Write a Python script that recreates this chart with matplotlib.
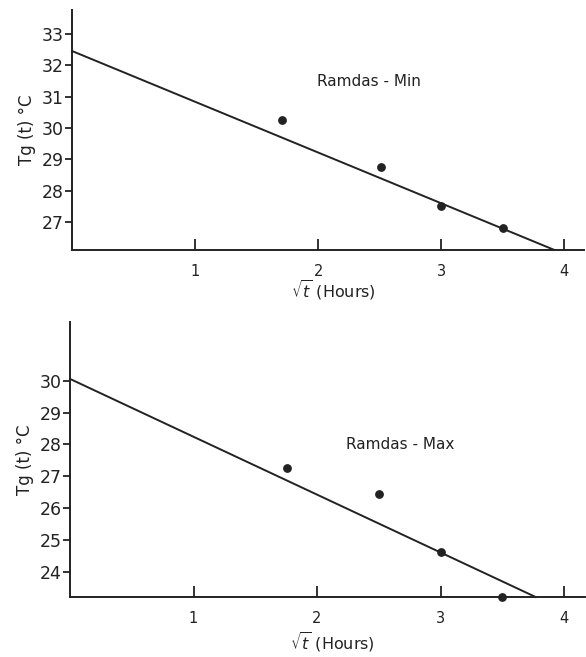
import matplotlib.pyplot as plt

# Ramdas - Min (top panel)
min_x = [1.71, 2.51, 3.0, 3.5]
min_y = [30.25, 28.75, 27.5, 26.8]
min_fit_x = [0.0, 3.92]
min_fit_y = [32.46, 26.1]
min_yticks = [27, 28, 29, 30, 31, 32, 33]

# Ramdas - Max (bottom panel)
max_x = [1.76, 2.5, 3.0, 3.5]
max_y = [27.26, 26.45, 24.62, 23.2]
max_fit_x = [0.0, 3.77]
max_fit_y = [30.06, 23.2]
max_yticks = [24, 25, 26, 27, 28, 29, 30]

xticks = [1, 2, 3, 4]
ink = '#222222'

fig = plt.figure(figsize=(5.86, 6.57), dpi=100)


def panel(rect, px, py, fx, fy, yticks, ylim, xlim, label, label_xy, xlab_y):
    ax = fig.add_axes(rect)
    ax.plot(fx, fy, color=ink, linewidth=1.4, clip_on=False)
    ax.scatter(px, py, s=28, color=ink, zorder=3, clip_on=False)
    ax.set_xlim(*xlim)
    ax.set_ylim(*ylim)
    for s in ['top', 'right']:
        ax.spines[s].set_visible(False)
    for s in ['left', 'bottom']:
        ax.spines[s].set_linewidth(1.4)
        ax.spines[s].set_color(ink)
    ax.set_xticks(xticks)
    ax.set_yticks(yticks)
    ax.tick_params(axis='x', direction='in', length=8, width=1.3, labelsize=10.5,
                   pad=10, colors=ink)
    ax.tick_params(axis='y', direction='out', length=5, width=1.3, labelsize=12.5,
                   pad=1, colors=ink)
    ax.set_ylabel('Tg (t) °C', fontsize=12, color=ink, labelpad=4)
    ax.set_xlabel(r'$\sqrt{t}$ (Hours)', fontsize=11.5, color=ink)
    ax.xaxis.set_label_coords(0.51, xlab_y)
    ax.xaxis.label.set_va('center')
    ax.text(label_xy[0], label_xy[1], label, fontsize=11, color=ink,
            ha='center', va='center', transform=ax.transData)
    return ax


panel([72 / 586, 1 - 250 / 657, 512 / 586, 240 / 657],
      min_x, min_y, min_fit_x, min_fit_y, min_yticks,
      (26.1, 33.77), (0, 4.16), 'Ramdas - Min', (2.41, 31.5), -0.165)

panel([70 / 586, 1 - 597 / 657, 515 / 586, 275 / 657],
      max_x, max_y, max_fit_x, max_fit_y, max_yticks,
      (23.2, 31.85), (0, 4.17), 'Ramdas - Max', (2.67, 28.0), -0.165)

fig.savefig('out.png', dpi=100)
